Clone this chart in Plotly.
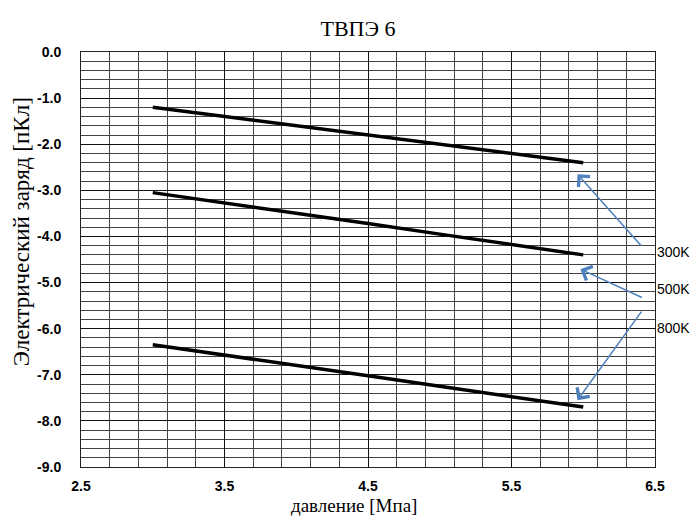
import plotly.graph_objects as go

pressure = [3.0, 3.5, 4.0, 4.5, 5.0, 5.5, 6.0]
charge_300K = [-1.2, -1.4, -1.6, -1.8, -2.0, -2.2, -2.4]
charge_500K = [-3.05, -3.27, -3.5, -3.72, -3.95, -4.17, -4.4]
charge_800K = [-6.35, -6.57, -6.8, -7.02, -7.25, -7.47, -7.7]
series_names = ["300K", "500K", "800K"]
x_ticks = [2.5, 3.5, 4.5, 5.5, 6.5]
y_ticks = [0, -1, -2, -3, -4, -5, -6, -7, -8, -9]

fig = go.Figure()
for name, vals in zip(series_names, [charge_300K, charge_500K, charge_800K]):
    fig.add_trace(go.Scatter(x=pressure, y=vals, mode="lines", name=name,
                             line=dict(color="black", width=3.5), showlegend=False))

tick_font = dict(family="Liberation Sans, Arial, sans-serif", size=14,
                 color="black", weight="bold")
serif = "Liberation Serif, Times New Roman, serif"

# page body has an 8px margin; keep the whole page inside the 700x527 window
fig.update_layout(
    width=684, height=511,
    paper_bgcolor="white", plot_bgcolor="white",
    margin=dict(l=73, r=37, t=44, b=52, autoexpand=False),
    title=dict(text="ТВПЭ 6", x=0.4826, xanchor="center", y=0.96, yanchor="middle",
               xref="paper", font=dict(family=serif, size=22, color="black")),
    xaxis=dict(range=[2.5, 6.5], tickvals=x_ticks, ticktext=[f"{v:.1f}" for v in x_ticks],
               showgrid=True, gridcolor="#111", gridwidth=1,
               minor=dict(dtick=0.2, tick0=2.5, showgrid=True, gridcolor="#444", gridwidth=1),
               showline=True, linecolor="#222", mirror=True, ticks="", zeroline=False,
               tickfont=tick_font, ticklabelstandoff=6),
    yaxis=dict(range=[-9, 0], tickvals=y_ticks, ticktext=[f"{v:.1f}" for v in y_ticks],
               showgrid=True, gridcolor="#111", gridwidth=1,
               minor=dict(dtick=0.2, tick0=0, showgrid=True, gridcolor="#444", gridwidth=1),
               showline=True, linecolor="#222", mirror=True, ticks="", zeroline=False,
               tickfont=tick_font, ticklabelstandoff=16),
)

# axis titles as annotations (positioned like the reference)
fig.add_annotation(x=-0.1045, y=0.566, xref="paper", yref="paper", text="Электрический заряд [пКл]",
                   textangle=-90, showarrow=False, xanchor="center", yanchor="middle",
                   font=dict(family=serif, size=23, color="black"))
fig.add_annotation(x=0.4756, y=-0.123, xref="paper", yref="paper", text="давление [Мпа]",
                   showarrow=False, xanchor="center", yanchor="bottom",
                   font=dict(family=serif, size=19, color="black"))

arrow_color = "#4f81bd"
arrows = [
    (5.96, -2.65, 65, 73),
    (5.98, -4.71, 63, 29),
    (5.96, -7.55, 65, -90),
]
for (hx, hy, dx, dy) in arrows:
    fig.add_annotation(x=hx, y=hy, ax=dx, ay=dy, xref="x", yref="y", axref="pixel", ayref="pixel",
                       text="", showarrow=True, arrowhead=4, arrowsize=2.0, arrowwidth=1.5,
                       arrowcolor=arrow_color)

label_y = [-4.33, -5.15, -5.98]
for name, ly in zip(series_names, label_y):
    fig.add_annotation(x=1.0, y=ly, xref="paper", yref="y", text=name, showarrow=False,
                       xanchor="left", font=dict(family="Liberation Sans, Arial, sans-serif", size=14, color="black"))

fig.write_html("out.html")
